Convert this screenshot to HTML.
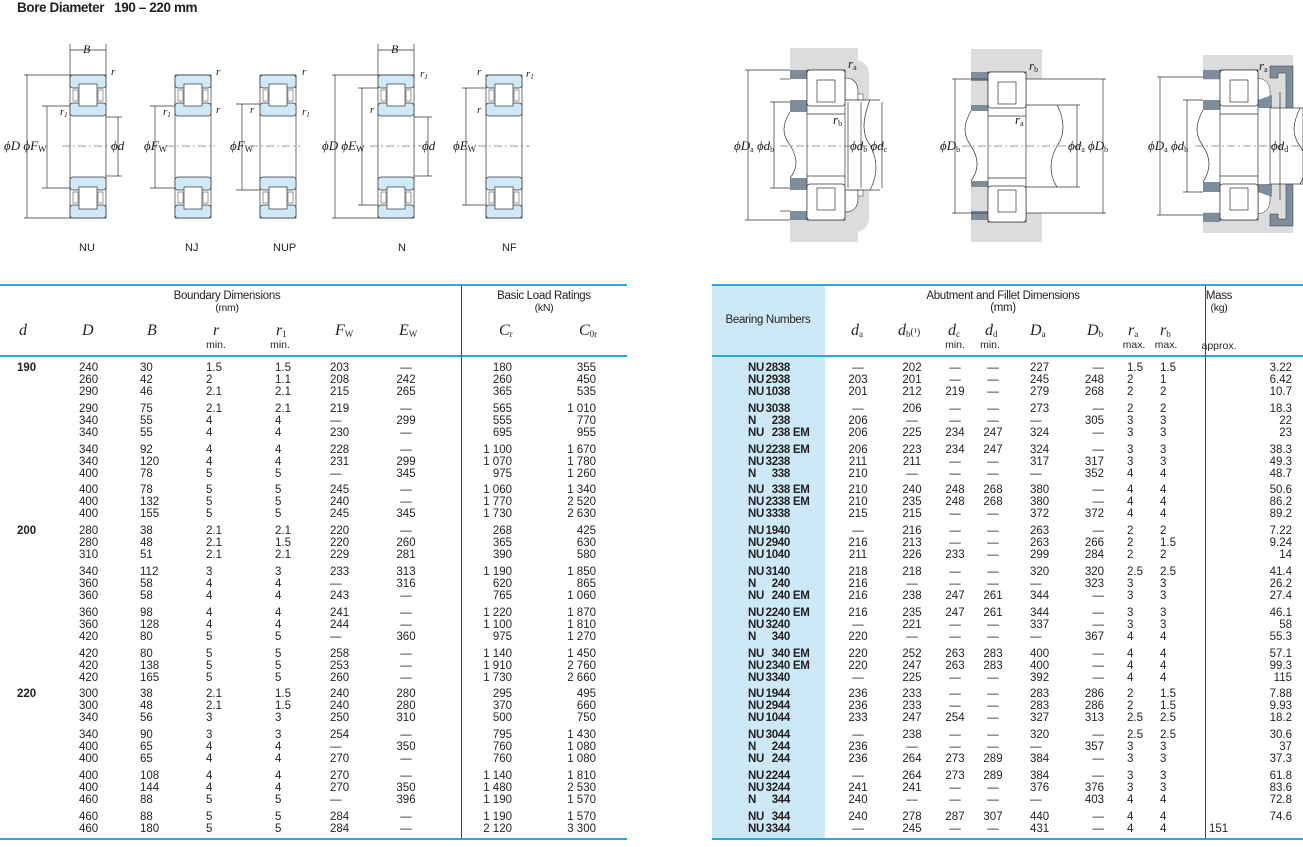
<!DOCTYPE html>
<html><head><meta charset="utf-8">
<style>
*{margin:0;padding:0;box-sizing:border-box}
body{width:1303px;height:847px;background:#fff;position:relative;overflow:hidden;font-family:"Liberation Sans",sans-serif;color:#231f20;font-size:11.5px}
.t{position:absolute;left:17px;top:0px;font-weight:bold;font-size:13.5px;letter-spacing:-0.4px}
.hl{position:absolute;height:2px;background:#29a8e0}
.vl{position:absolute;width:1px;background:#444}
.g{position:absolute;left:0;width:1303px}
.r{position:relative;height:12px;line-height:12px}
.r s{text-decoration:none;position:absolute;top:0;white-space:nowrap}
.L s:nth-child(1){left:17px;font-weight:bold}
.L s:nth-child(2){left:79px}
.L s:nth-child(3){left:140px}
.L s:nth-child(4){left:206px}
.L s:nth-child(5){left:275px}
.L s:nth-child(6){left:330px}
.L s:nth-child(7){left:386px;width:40px;text-align:center}
.L s:nth-child(8){left:452px;width:60px;text-align:right}
.L s:nth-child(9){left:536px;width:60px;text-align:right}
.R s:nth-child(1){left:748px;font-weight:bold;letter-spacing:-0.3px}
.R s:nth-child(1) u{text-decoration:none;display:inline-block}
.R s:nth-child(1) u:nth-child(1){width:15px}
.R s:nth-child(1) u:nth-child(2){width:27px;text-align:right}
.R s:nth-child(2){left:838px;width:40px;text-align:center}
.R s:nth-child(3){left:892px;width:40px;text-align:center}
.R s:nth-child(4){left:935px;width:40px;text-align:center}
.R s:nth-child(5){left:973px;width:40px;text-align:center}
.R s:nth-child(6){left:1030px}
.R s:nth-child(7){left:1064px;width:40px;text-align:right}
.R s:nth-child(8){left:1127px}
.R s:nth-child(9){left:1160px}
.R s:nth-child(10){left:1232px;width:60px;text-align:right}
.sym{position:absolute;font-family:"Liberation Serif",serif;font-style:italic;font-size:16px;line-height:16px;white-space:nowrap}
.sym sub{font-size:9px;font-style:normal;vertical-align:-2px}
.sm{position:absolute;font-size:10.5px;white-space:nowrap;line-height:11px}
.c{transform:translateX(-50%)}
.lb{position:absolute;font-size:11.5px;letter-spacing:-0.3px}
.dl{font-family:"Liberation Serif",serif;font-style:italic;font-size:13px;fill:#1a1a1a}
</style></head><body>
<div class="t">Bore Diameter&nbsp;&nbsp;&nbsp;190 – 220 mm</div>

<svg style="position:absolute;left:0;top:0" width="1303" height="270">
<defs>
<g id="brg">
 <rect x="0" y="0" width="36" height="143" fill="#fff" stroke="#333" stroke-width="0.7"/>
 <rect x="0" y="0" width="36" height="13" rx="3" fill="#cfe9f8" stroke="#333" stroke-width="0.7"/>
 <rect x="0" y="28" width="36" height="13" rx="3" fill="#cfe9f8" stroke="#333" stroke-width="0.7"/>
 <rect x="9" y="9" width="18" height="22" fill="#fff" stroke="#333" stroke-width="0.7"/>
 <rect x="3" y="15" width="5" height="11" fill="#fff" stroke="#333" stroke-width="0.5"/>
 <rect x="28" y="15" width="5" height="11" fill="#fff" stroke="#333" stroke-width="0.5"/>
 <rect x="0" y="130" width="36" height="13" rx="3" fill="#cfe9f8" stroke="#333" stroke-width="0.7"/>
 <rect x="0" y="102" width="36" height="13" rx="3" fill="#cfe9f8" stroke="#333" stroke-width="0.7"/>
 <rect x="9" y="112" width="18" height="22" fill="#fff" stroke="#333" stroke-width="0.7"/>
 <rect x="3" y="117" width="5" height="11" fill="#fff" stroke="#333" stroke-width="0.5"/>
 <rect x="28" y="117" width="5" height="11" fill="#fff" stroke="#333" stroke-width="0.5"/>
</g>
<g id="brg2">
 <rect x="0" y="0" width="38" height="150" fill="#fff" stroke="#333" stroke-width="0.7"/>
 <rect x="0" y="0" width="38" height="36" rx="3" fill="#fff" stroke="#333" stroke-width="0.7"/>
 <rect x="10" y="10" width="18" height="22" fill="#fff" stroke="#333" stroke-width="0.7"/>
 <line x1="0" y1="44" x2="38" y2="44" stroke="#333" stroke-width="0.7"/>
 <rect x="0" y="114" width="38" height="36" rx="3" fill="#fff" stroke="#333" stroke-width="0.7"/>
 <rect x="10" y="118" width="18" height="22" fill="#fff" stroke="#333" stroke-width="0.7"/>
 <line x1="0" y1="106" x2="38" y2="106" stroke="#333" stroke-width="0.7"/>
</g>
</defs>
<g stroke="#333" stroke-width="0.7" fill="none">
<line x1="70" y1="44" x2="70" y2="75"/><line x1="106" y1="44" x2="106" y2="75"/>
<line x1="70" y1="50" x2="106" y2="50"/>
<line x1="24" y1="75" x2="70" y2="75"/><line x1="24" y1="218" x2="70" y2="218"/><line x1="27" y1="75" x2="27" y2="218"/>
<line x1="42" y1="106" x2="70" y2="106"/><line x1="42" y1="188" x2="70" y2="188"/><line x1="47" y1="106" x2="47" y2="188"/>
<line x1="106" y1="117" x2="122" y2="117"/><line x1="106" y1="176" x2="122" y2="176"/><line x1="118" y1="117" x2="118" y2="176"/>
<line x1="150" y1="106" x2="175" y2="106"/><line x1="150" y1="188" x2="175" y2="188"/><line x1="155" y1="106" x2="155" y2="188"/>
<line x1="236" y1="104" x2="260" y2="104"/><line x1="236" y1="190" x2="260" y2="190"/><line x1="242" y1="104" x2="242" y2="190"/>
<line x1="378" y1="44" x2="378" y2="75"/><line x1="414" y1="44" x2="414" y2="75"/>
<line x1="378" y1="50" x2="414" y2="50"/>
<line x1="332" y1="75" x2="378" y2="75"/><line x1="332" y1="218" x2="378" y2="218"/><line x1="335" y1="75" x2="335" y2="218"/>
<line x1="358" y1="88" x2="378" y2="88"/><line x1="358" y1="205" x2="378" y2="205"/><line x1="362" y1="88" x2="362" y2="205"/>
<line x1="414" y1="117" x2="432" y2="117"/><line x1="414" y1="176" x2="432" y2="176"/><line x1="428" y1="117" x2="428" y2="176"/>
<line x1="462" y1="88" x2="486" y2="88"/><line x1="462" y1="205" x2="486" y2="205"/><line x1="466" y1="88" x2="466" y2="205"/>
</g>
<use href="#brg" x="70" y="75"/><use href="#brg" x="175" y="75"/><use href="#brg" x="260" y="75"/><use href="#brg" x="378" y="75"/><use href="#brg" x="486" y="75"/>
<g stroke="#333" stroke-width="0.6" stroke-dasharray="8,3,2,3">
<line x1="62" y1="146" x2="112" y2="146"/><line x1="166" y1="146" x2="215" y2="146"/><line x1="250" y1="146" x2="300" y2="146"/><line x1="370" y1="146" x2="422" y2="146"/><line x1="478" y1="146" x2="530" y2="146"/>
</g>
<g class="dl">
<text x="83" y="53" font-size="12">B</text><text x="391" y="53" font-size="12">B</text>
<text x="4" y="150">ϕD ϕF<tspan font-size="9" font-style="normal" dy="2">W</tspan></text>
<text x="111" y="150">ϕd</text>
<text x="144" y="150">ϕF<tspan font-size="9" font-style="normal" dy="2">W</tspan></text>
<text x="230" y="150">ϕF<tspan font-size="9" font-style="normal" dy="2">W</tspan></text>
<text x="322" y="150">ϕD ϕE<tspan font-size="9" font-style="normal" dy="2">W</tspan></text>
<text x="422" y="150">ϕd</text>
<text x="453" y="150">ϕE<tspan font-size="9" font-style="normal" dy="2">W</tspan></text>
<text x="111" y="75" font-size="11">r</text><text x="60" y="115" font-size="11">r<tspan font-size="7" dy="2">1</tspan></text>
<text x="216" y="75" font-size="11">r</text><text x="163" y="115" font-size="11">r<tspan font-size="7" dy="2">1</tspan></text><text x="216" y="113" font-size="11">r</text>
<text x="302" y="75" font-size="11">r</text><text x="250" y="113" font-size="11">r</text><text x="302" y="115" font-size="11">r<tspan font-size="7" dy="2">1</tspan></text>
<text x="420" y="77" font-size="11">r<tspan font-size="7" dy="2">1</tspan></text><text x="370" y="113" font-size="11">r</text>
<text x="477" y="75" font-size="11">r</text><text x="526" y="77" font-size="11">r<tspan font-size="7" dy="2">1</tspan></text><text x="477" y="113" font-size="11">r</text>
</g>
<g font-size="11" font-family="Liberation Sans" fill="#231f20">
<text x="79" y="251">NU</text><text x="185" y="251">NJ</text><text x="273" y="251">NUP</text><text x="398" y="251">N</text><text x="502" y="251">NF</text>
</g>

<!-- D1 -->
<path d="M790 48 H858 V60 Q870 64 869 76 V216 Q870 228 858 232 V242 H790 Z" fill="#dcdcdc"/>
<rect x="780" y="79" width="27" height="132" fill="#fff"/>
<path d="M845 78 Q858 78 858 92 V100 H845 Z M845 212 Q858 212 858 198 V190 H845 Z" fill="#fff" stroke="#333" stroke-width="0.6"/>
<rect x="845" y="100" width="36" height="90" fill="#fff"/>
<rect x="790" y="70" width="17" height="9" fill="#7d8d9b"/><rect x="790" y="100" width="17" height="12" fill="#7d8d9b"/>
<rect x="790" y="178" width="17" height="12" fill="#7d8d9b"/><rect x="790" y="211" width="17" height="9" fill="#7d8d9b"/>
<rect x="858" y="94" width="5" height="6" fill="#fff" stroke="#333" stroke-width="0.5"/><rect x="858" y="190" width="5" height="6" fill="#fff" stroke="#333" stroke-width="0.5"/>
<use href="#brg2" x="807" y="70"/>
<g stroke="#333" stroke-width="0.7" fill="none">
<line x1="780" y1="79" x2="790" y2="79"/><line x1="780" y1="211" x2="790" y2="211"/>
<path d="M790 112 C782 125 782 135 790 145 C798 158 798 168 790 178"/>
<line x1="845" y1="100" x2="880" y2="100"/><line x1="845" y1="190" x2="880" y2="190"/>
<path d="M870 100 C862 120 862 135 870 145 C878 160 878 175 870 190"/>
<line x1="745" y1="70" x2="790" y2="70"/><line x1="745" y1="220" x2="790" y2="220"/><line x1="748" y1="70" x2="748" y2="220"/>
<line x1="770" y1="102" x2="790" y2="102"/><line x1="770" y1="188" x2="790" y2="188"/><line x1="774" y1="102" x2="774" y2="188"/>
<line x1="861" y1="102" x2="861" y2="188"/><line x1="882" y1="102" x2="882" y2="188"/>
<line x1="848" y1="102" x2="848" y2="188"/>
</g>
<!-- D2 -->
<rect x="971" y="49" width="71" height="193" fill="#dcdcdc"/>
<rect x="988" y="79" width="54" height="134" fill="#fff"/>
<rect x="966" y="105" width="112" height="82" fill="#fff"/>
<rect x="971" y="72" width="17" height="9" fill="#7d8d9b"/><rect x="971" y="105" width="17" height="6" fill="#7d8d9b"/>
<rect x="971" y="181" width="17" height="6" fill="#7d8d9b"/><rect x="971" y="211" width="17" height="9" fill="#7d8d9b"/>
<use href="#brg2" x="988" y="72"/>
<g stroke="#333" stroke-width="0.7" fill="none">
<path d="M971 111 C963 125 963 135 971 146 C979 158 979 170 971 181"/>
<line x1="1026" y1="79" x2="1106" y2="79"/><line x1="1026" y1="213" x2="1106" y2="213"/>
<line x1="1026" y1="105" x2="1080" y2="105"/><line x1="1026" y1="187" x2="1080" y2="187"/>
<path d="M1057 105 C1065 120 1065 135 1057 146 C1049 160 1049 175 1057 187"/>
<line x1="1077" y1="105" x2="1077" y2="187"/><line x1="1103" y1="79" x2="1103" y2="213"/>
<line x1="952" y1="79" x2="988" y2="79"/><line x1="952" y1="213" x2="988" y2="213"/><line x1="955" y1="79" x2="955" y2="213"/>
</g>
<!-- D3 -->
<rect x="1203" y="55" width="90" height="178" fill="#dcdcdc"/>
<rect x="1200" y="80" width="20" height="132" fill="#fff"/>
<path d="M1258 78 Q1270 80 1270 92 V100 H1258 Z M1258 214 Q1270 212 1270 200 V192 H1258 Z" fill="#fff" stroke="#333" stroke-width="0.5"/>
<rect x="1203" y="70" width="17" height="9" fill="#7d8d9b"/><rect x="1203" y="100" width="17" height="10" fill="#7d8d9b"/>
<rect x="1203" y="182" width="17" height="10" fill="#7d8d9b"/><rect x="1203" y="213" width="17" height="9" fill="#7d8d9b"/>
<path d="M1258 100 L1272 95 L1272 108 L1258 108 Z M1258 184 L1272 184 L1272 197 L1258 192 Z" fill="#7d8d9b"/>
<path d="M1270 66 H1293 V125 H1286 V73 H1278 V78 H1270 Z M1270 226 H1293 V167 H1286 V219 H1278 V214 H1270 Z" fill="#7d8d9b" stroke="#333" stroke-width="0.5"/>
<rect x="1220" y="108" width="50" height="76" fill="#fff"/>
<use href="#brg2" x="1220" y="70"/>
<g stroke="#333" stroke-width="0.7" fill="none">
<path d="M1203 110 C1195 125 1195 135 1203 146 C1211 158 1211 170 1203 182"/>
<rect x="1270" y="108" width="33" height="76" fill="#fff"/>
<path d="M1300 108 C1292 125 1292 135 1300 146 C1308 158 1308 170 1300 184"/>
<line x1="1157" y1="77" x2="1203" y2="77"/><line x1="1157" y1="215" x2="1203" y2="215"/><line x1="1160" y1="77" x2="1160" y2="215"/>
<line x1="1183" y1="100" x2="1203" y2="100"/><line x1="1183" y1="192" x2="1203" y2="192"/><line x1="1187" y1="100" x2="1187" y2="192"/>
<line x1="1280" y1="92" x2="1280" y2="200"/>
</g>
<g stroke="#333" stroke-width="0.6" stroke-dasharray="8,3,2,3">
<line x1="780" y1="146" x2="885" y2="146"/><line x1="962" y1="146" x2="1085" y2="146"/><line x1="1195" y1="146" x2="1303" y2="146"/>
</g>
<g class="dl" font-size="12">
<text x="734" y="150">ϕD<tspan font-size="8" font-style="normal" dy="2">a</tspan><tspan dy="-2"> ϕd</tspan><tspan font-size="8" font-style="normal" dy="2">b</tspan></text>
<text x="850" y="150">ϕd<tspan font-size="8" font-style="normal" dy="2">b</tspan><tspan dy="-2"> ϕd</tspan><tspan font-size="8" font-style="normal" dy="2">c</tspan></text>
<text x="940" y="150">ϕD<tspan font-size="8" font-style="normal" dy="2">b</tspan></text>
<text x="1068" y="150">ϕd<tspan font-size="8" font-style="normal" dy="2">a</tspan><tspan dy="-2"> ϕD</tspan><tspan font-size="8" font-style="normal" dy="2">b</tspan></text>
<text x="1148" y="150">ϕD<tspan font-size="8" font-style="normal" dy="2">a</tspan><tspan dy="-2"> ϕd</tspan><tspan font-size="8" font-style="normal" dy="2">b</tspan></text>
<text x="1271" y="150">ϕd<tspan font-size="8" font-style="normal" dy="2">d</tspan></text>
<text x="848" y="68">r<tspan font-size="8" font-style="normal" dy="2">a</tspan></text>
<text x="833" y="124">r<tspan font-size="8" font-style="normal" dy="2">b</tspan></text>
<text x="1029" y="70">r<tspan font-size="8" font-style="normal" dy="2">b</tspan></text>
<text x="1015" y="124">r<tspan font-size="8" font-style="normal" dy="2">a</tspan></text>
<text x="1259" y="70">r<tspan font-size="8" font-style="normal" dy="2">a</tspan></text>
</g>
</svg>

<div class="hl" style="left:0;top:284px;width:627px"></div>
<div class="hl" style="left:0;top:355px;width:627px;height:1.5px"></div>
<div class="hl" style="left:0;top:838px;width:627px;height:1.5px"></div>
<div class="vl" style="left:461px;top:286px;height:552px"></div>
<div class="lb c" style="left:227px;top:290px">Boundary Dimensions</div>
<div class="lb c" style="left:227px;top:302px;font-size:10.5px">(mm)</div>
<div class="lb c" style="left:544px;top:290px">Basic Load Ratings</div>
<div class="lb c" style="left:544px;top:302px;font-size:10.5px">(kN)</div>
<div class="sym" style="left:19px;top:323px">d</div>
<div class="sym" style="left:82px;top:323px">D</div>
<div class="sym" style="left:147px;top:323px">B</div>
<div class="sym" style="left:213px;top:323px">r</div>
<div class="sym" style="left:276px;top:323px">r<sub>1</sub></div>
<div class="sym" style="left:335px;top:323px">F<sub>W</sub></div>
<div class="sym" style="left:399px;top:323px">E<sub>W</sub></div>
<div class="sym" style="left:499px;top:323px">C<sub>r</sub></div>
<div class="sym" style="left:579px;top:323px">C<sub>0r</sub></div>
<div class="sm c" style="left:216px;top:340px">min.</div>
<div class="sm c" style="left:280px;top:340px">min.</div>

<div style="position:absolute;left:712px;top:285px;width:113px;height:554px;background:#cde9f8"></div>
<div class="hl" style="left:712px;top:284px;width:591px"></div>
<div class="hl" style="left:712px;top:355px;width:591px;height:1.5px"></div>
<div class="hl" style="left:712px;top:838px;width:591px;height:1.5px"></div>
<div class="vl" style="left:1205px;top:286px;height:552px"></div>
<div class="lb c" style="left:768px;top:314px">Bearing Numbers</div>
<div class="lb c" style="left:1003px;top:290px">Abutment and Fillet Dimensions</div>
<div class="lb c" style="left:1003px;top:302px">(mm)</div>
<div class="lb c" style="left:1219px;top:290px">Mass</div>
<div class="lb c" style="left:1219px;top:302px;font-size:10.5px">(kg)</div>
<div class="sym" style="left:851px;top:323px">d<sub>a</sub></div>
<div class="sym" style="left:898px;top:323px">d<sub>b</sub><span style="font-style:normal;font-size:10px">(¹)</span></div>
<div class="sym" style="left:948px;top:323px">d<sub>c</sub></div>
<div class="sym" style="left:985px;top:323px">d<sub>d</sub></div>
<div class="sym" style="left:1030px;top:323px">D<sub>a</sub></div>
<div class="sym" style="left:1087px;top:323px">D<sub>b</sub></div>
<div class="sym" style="left:1128px;top:323px">r<sub>a</sub></div>
<div class="sym" style="left:1160px;top:323px">r<sub>b</sub></div>
<div class="sm c" style="left:955px;top:340px">min.</div>
<div class="sm c" style="left:990px;top:340px">min.</div>
<div class="sm c" style="left:1134px;top:340px">max.</div>
<div class="sm c" style="left:1166px;top:340px">max.</div>
<div class="sm c" style="left:1219px;top:341px">approx.</div>

<div class="g L" style="top:362px">
<div class="r"><s>190</s><s>240</s><s>30</s><s>1.5</s><s>1.5</s><s>203</s><s>—</s><s>180</s><s>355</s></div>
<div class="r"><s></s><s>260</s><s>42</s><s>2</s><s>1.1</s><s>208</s><s>242</s><s>260</s><s>450</s></div>
<div class="r"><s></s><s>290</s><s>46</s><s>2.1</s><s>2.1</s><s>215</s><s>265</s><s>365</s><s>535</s></div></div>
<div class="g L" style="top:402.8px">
<div class="r"><s></s><s>290</s><s>75</s><s>2.1</s><s>2.1</s><s>219</s><s>—</s><s>565</s><s>1 010</s></div>
<div class="r"><s></s><s>340</s><s>55</s><s>4</s><s>4</s><s>—</s><s>299</s><s>555</s><s>770</s></div>
<div class="r"><s></s><s>340</s><s>55</s><s>4</s><s>4</s><s>230</s><s>—</s><s>695</s><s>955</s></div></div>
<div class="g L" style="top:443.6px">
<div class="r"><s></s><s>340</s><s>92</s><s>4</s><s>4</s><s>228</s><s>—</s><s>1 100</s><s>1 670</s></div>
<div class="r"><s></s><s>340</s><s>120</s><s>4</s><s>4</s><s>231</s><s>299</s><s>1 070</s><s>1 780</s></div>
<div class="r"><s></s><s>400</s><s>78</s><s>5</s><s>5</s><s>—</s><s>345</s><s>975</s><s>1 260</s></div></div>
<div class="g L" style="top:484.4px">
<div class="r"><s></s><s>400</s><s>78</s><s>5</s><s>5</s><s>245</s><s>—</s><s>1 060</s><s>1 340</s></div>
<div class="r"><s></s><s>400</s><s>132</s><s>5</s><s>5</s><s>240</s><s>—</s><s>1 770</s><s>2 520</s></div>
<div class="r"><s></s><s>400</s><s>155</s><s>5</s><s>5</s><s>245</s><s>345</s><s>1 730</s><s>2 630</s></div></div>
<div class="g L" style="top:525.2px">
<div class="r"><s>200</s><s>280</s><s>38</s><s>2.1</s><s>2.1</s><s>220</s><s>—</s><s>268</s><s>425</s></div>
<div class="r"><s></s><s>280</s><s>48</s><s>2.1</s><s>1.5</s><s>220</s><s>260</s><s>365</s><s>630</s></div>
<div class="r"><s></s><s>310</s><s>51</s><s>2.1</s><s>2.1</s><s>229</s><s>281</s><s>390</s><s>580</s></div></div>
<div class="g L" style="top:566px">
<div class="r"><s></s><s>340</s><s>112</s><s>3</s><s>3</s><s>233</s><s>313</s><s>1 190</s><s>1 850</s></div>
<div class="r"><s></s><s>360</s><s>58</s><s>4</s><s>4</s><s>—</s><s>316</s><s>620</s><s>865</s></div>
<div class="r"><s></s><s>360</s><s>58</s><s>4</s><s>4</s><s>243</s><s>—</s><s>765</s><s>1 060</s></div></div>
<div class="g L" style="top:606.8px">
<div class="r"><s></s><s>360</s><s>98</s><s>4</s><s>4</s><s>241</s><s>—</s><s>1 220</s><s>1 870</s></div>
<div class="r"><s></s><s>360</s><s>128</s><s>4</s><s>4</s><s>244</s><s>—</s><s>1 100</s><s>1 810</s></div>
<div class="r"><s></s><s>420</s><s>80</s><s>5</s><s>5</s><s>—</s><s>360</s><s>975</s><s>1 270</s></div></div>
<div class="g L" style="top:647.6px">
<div class="r"><s></s><s>420</s><s>80</s><s>5</s><s>5</s><s>258</s><s>—</s><s>1 140</s><s>1 450</s></div>
<div class="r"><s></s><s>420</s><s>138</s><s>5</s><s>5</s><s>253</s><s>—</s><s>1 910</s><s>2 760</s></div>
<div class="r"><s></s><s>420</s><s>165</s><s>5</s><s>5</s><s>260</s><s>—</s><s>1 730</s><s>2 660</s></div></div>
<div class="g L" style="top:688.4px">
<div class="r"><s>220</s><s>300</s><s>38</s><s>2.1</s><s>1.5</s><s>240</s><s>280</s><s>295</s><s>495</s></div>
<div class="r"><s></s><s>300</s><s>48</s><s>2.1</s><s>1.5</s><s>240</s><s>280</s><s>370</s><s>660</s></div>
<div class="r"><s></s><s>340</s><s>56</s><s>3</s><s>3</s><s>250</s><s>310</s><s>500</s><s>750</s></div></div>
<div class="g L" style="top:729.2px">
<div class="r"><s></s><s>340</s><s>90</s><s>3</s><s>3</s><s>254</s><s>—</s><s>795</s><s>1 430</s></div>
<div class="r"><s></s><s>400</s><s>65</s><s>4</s><s>4</s><s>—</s><s>350</s><s>760</s><s>1 080</s></div>
<div class="r"><s></s><s>400</s><s>65</s><s>4</s><s>4</s><s>270</s><s>—</s><s>760</s><s>1 080</s></div></div>
<div class="g L" style="top:770px">
<div class="r"><s></s><s>400</s><s>108</s><s>4</s><s>4</s><s>270</s><s>—</s><s>1 140</s><s>1 810</s></div>
<div class="r"><s></s><s>400</s><s>144</s><s>4</s><s>4</s><s>270</s><s>350</s><s>1 480</s><s>2 530</s></div>
<div class="r"><s></s><s>460</s><s>88</s><s>5</s><s>5</s><s>—</s><s>396</s><s>1 190</s><s>1 570</s></div></div>
<div class="g L" style="top:810.8px">
<div class="r"><s></s><s>460</s><s>88</s><s>5</s><s>5</s><s>284</s><s>—</s><s>1 190</s><s>1 570</s></div>
<div class="r"><s></s><s>460</s><s>180</s><s>5</s><s>5</s><s>284</s><s>—</s><s>2 120</s><s>3 300</s></div></div>

<div class="g R" style="top:362px">
<div class="r"><s><u>NU</u><u>2838</u></s><s>—</s><s>202</s><s>—</s><s>—</s><s>227</s><s>—</s><s>1.5</s><s>1.5</s><s>3.22</s></div>
<div class="r"><s><u>NU</u><u>2938</u></s><s>203</s><s>201</s><s>—</s><s>—</s><s>245</s><s>248</s><s>2</s><s>1</s><s>6.42</s></div>
<div class="r"><s><u>NU</u><u>1038</u></s><s>201</s><s>212</s><s>219</s><s>—</s><s>279</s><s>268</s><s>2</s><s>2</s><s>10.7</s></div></div>
<div class="g R" style="top:402.8px">
<div class="r"><s><u>NU</u><u>3038</u></s><s>—</s><s>206</s><s>—</s><s>—</s><s>273</s><s>—</s><s>2</s><s>2</s><s>18.3</s></div>
<div class="r"><s><u>N</u><u>238</u></s><s>206</s><s>—</s><s>—</s><s>—</s><s>—</s><s>305</s><s>3</s><s>3</s><s>22</s></div>
<div class="r"><s><u>NU</u><u>238</u> EM</s><s>206</s><s>225</s><s>234</s><s>247</s><s>324</s><s>—</s><s>3</s><s>3</s><s>23</s></div></div>
<div class="g R" style="top:443.6px">
<div class="r"><s><u>NU</u><u>2238</u> EM</s><s>206</s><s>223</s><s>234</s><s>247</s><s>324</s><s>—</s><s>3</s><s>3</s><s>38.3</s></div>
<div class="r"><s><u>NU</u><u>3238</u></s><s>211</s><s>211</s><s>—</s><s>—</s><s>317</s><s>317</s><s>3</s><s>3</s><s>49.3</s></div>
<div class="r"><s><u>N</u><u>338</u></s><s>210</s><s>—</s><s>—</s><s>—</s><s>—</s><s>352</s><s>4</s><s>4</s><s>48.7</s></div></div>
<div class="g R" style="top:484.4px">
<div class="r"><s><u>NU</u><u>338</u> EM</s><s>210</s><s>240</s><s>248</s><s>268</s><s>380</s><s>—</s><s>4</s><s>4</s><s>50.6</s></div>
<div class="r"><s><u>NU</u><u>2338</u> EM</s><s>210</s><s>235</s><s>248</s><s>268</s><s>380</s><s>—</s><s>4</s><s>4</s><s>86.2</s></div>
<div class="r"><s><u>NU</u><u>3338</u></s><s>215</s><s>215</s><s>—</s><s>—</s><s>372</s><s>372</s><s>4</s><s>4</s><s>89.2</s></div></div>
<div class="g R" style="top:525.2px">
<div class="r"><s><u>NU</u><u>1940</u></s><s>—</s><s>216</s><s>—</s><s>—</s><s>263</s><s>—</s><s>2</s><s>2</s><s>7.22</s></div>
<div class="r"><s><u>NU</u><u>2940</u></s><s>216</s><s>213</s><s>—</s><s>—</s><s>263</s><s>266</s><s>2</s><s>1.5</s><s>9.24</s></div>
<div class="r"><s><u>NU</u><u>1040</u></s><s>211</s><s>226</s><s>233</s><s>—</s><s>299</s><s>284</s><s>2</s><s>2</s><s>14</s></div></div>
<div class="g R" style="top:566px">
<div class="r"><s><u>NU</u><u>3140</u></s><s>218</s><s>218</s><s>—</s><s>—</s><s>320</s><s>320</s><s>2.5</s><s>2.5</s><s>41.4</s></div>
<div class="r"><s><u>N</u><u>240</u></s><s>216</s><s>—</s><s>—</s><s>—</s><s>—</s><s>323</s><s>3</s><s>3</s><s>26.2</s></div>
<div class="r"><s><u>NU</u><u>240</u> EM</s><s>216</s><s>238</s><s>247</s><s>261</s><s>344</s><s>—</s><s>3</s><s>3</s><s>27.4</s></div></div>
<div class="g R" style="top:606.8px">
<div class="r"><s><u>NU</u><u>2240</u> EM</s><s>216</s><s>235</s><s>247</s><s>261</s><s>344</s><s>—</s><s>3</s><s>3</s><s>46.1</s></div>
<div class="r"><s><u>NU</u><u>3240</u></s><s>—</s><s>221</s><s>—</s><s>—</s><s>337</s><s>—</s><s>3</s><s>3</s><s>58</s></div>
<div class="r"><s><u>N</u><u>340</u></s><s>220</s><s>—</s><s>—</s><s>—</s><s>—</s><s>367</s><s>4</s><s>4</s><s>55.3</s></div></div>
<div class="g R" style="top:647.6px">
<div class="r"><s><u>NU</u><u>340</u> EM</s><s>220</s><s>252</s><s>263</s><s>283</s><s>400</s><s>—</s><s>4</s><s>4</s><s>57.1</s></div>
<div class="r"><s><u>NU</u><u>2340</u> EM</s><s>220</s><s>247</s><s>263</s><s>283</s><s>400</s><s>—</s><s>4</s><s>4</s><s>99.3</s></div>
<div class="r"><s><u>NU</u><u>3340</u></s><s>—</s><s>225</s><s>—</s><s>—</s><s>392</s><s>—</s><s>4</s><s>4</s><s>115</s></div></div>
<div class="g R" style="top:688.4px">
<div class="r"><s><u>NU</u><u>1944</u></s><s>236</s><s>233</s><s>—</s><s>—</s><s>283</s><s>286</s><s>2</s><s>1.5</s><s>7.88</s></div>
<div class="r"><s><u>NU</u><u>2944</u></s><s>236</s><s>233</s><s>—</s><s>—</s><s>283</s><s>286</s><s>2</s><s>1.5</s><s>9.93</s></div>
<div class="r"><s><u>NU</u><u>1044</u></s><s>233</s><s>247</s><s>254</s><s>—</s><s>327</s><s>313</s><s>2.5</s><s>2.5</s><s>18.2</s></div></div>
<div class="g R" style="top:729.2px">
<div class="r"><s><u>NU</u><u>3044</u></s><s>—</s><s>238</s><s>—</s><s>—</s><s>320</s><s>—</s><s>2.5</s><s>2.5</s><s>30.6</s></div>
<div class="r"><s><u>N</u><u>244</u></s><s>236</s><s>—</s><s>—</s><s>—</s><s>—</s><s>357</s><s>3</s><s>3</s><s>37</s></div>
<div class="r"><s><u>NU</u><u>244</u></s><s>236</s><s>264</s><s>273</s><s>289</s><s>384</s><s>—</s><s>3</s><s>3</s><s>37.3</s></div></div>
<div class="g R" style="top:770px">
<div class="r"><s><u>NU</u><u>2244</u></s><s>—</s><s>264</s><s>273</s><s>289</s><s>384</s><s>—</s><s>3</s><s>3</s><s>61.8</s></div>
<div class="r"><s><u>NU</u><u>3244</u></s><s>241</s><s>241</s><s>—</s><s>—</s><s>376</s><s>376</s><s>3</s><s>3</s><s>83.6</s></div>
<div class="r"><s><u>N</u><u>344</u></s><s>240</s><s>—</s><s>—</s><s>—</s><s>—</s><s>403</s><s>4</s><s>4</s><s>72.8</s></div></div>
<div class="g R" style="top:810.8px">
<div class="r"><s><u>NU</u><u>344</u></s><s>240</s><s>278</s><s>287</s><s>307</s><s>440</s><s>—</s><s>4</s><s>4</s><s>74.6</s></div>
<div class="r"><s><u>NU</u><u>3344</u></s><s>—</s><s>245</s><s>—</s><s>—</s><s>431</s><s>—</s><s>4</s><s>4</s><s style="left:1209px;width:auto;text-align:left">151</s></div></div>
</body></html>
